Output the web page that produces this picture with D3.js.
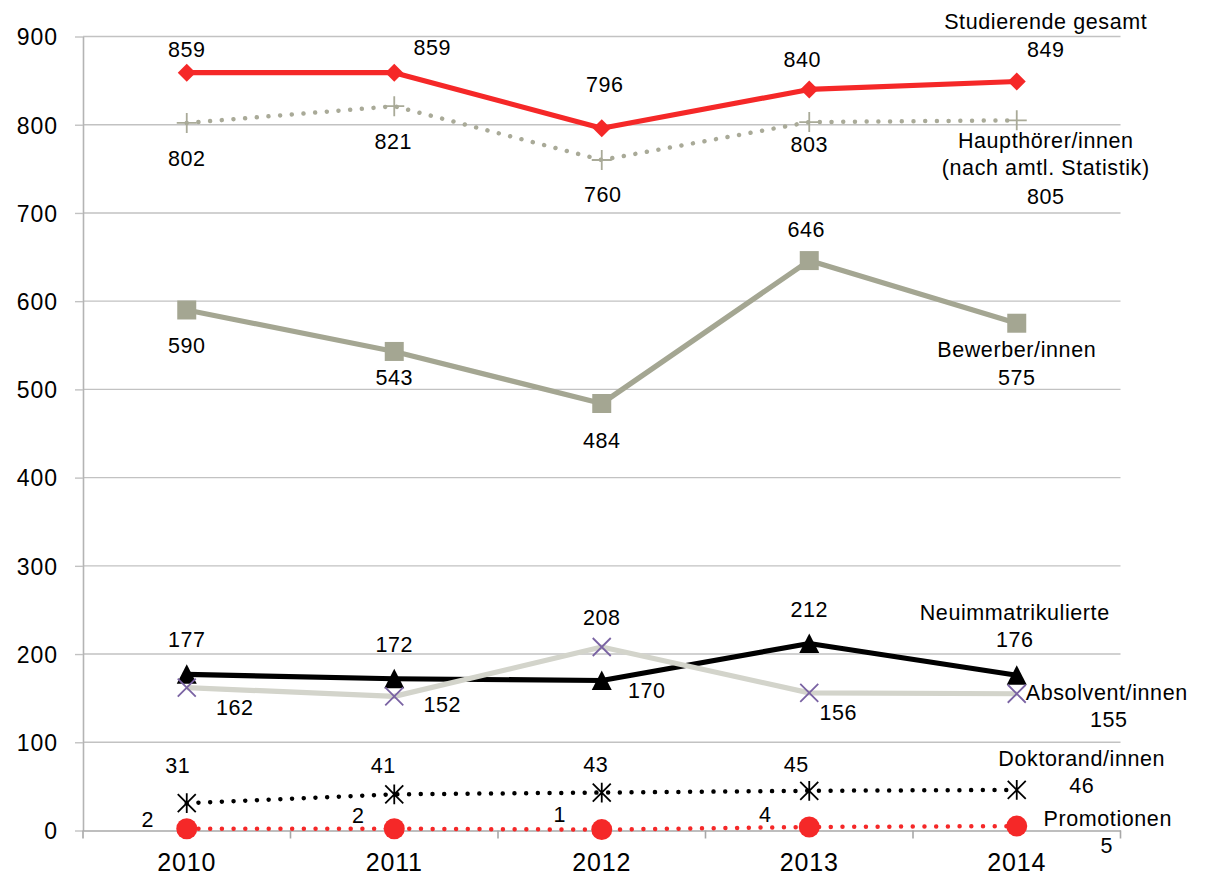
<!DOCTYPE html>
<html>
<head>
<meta charset="utf-8">
<script src="https://cdn.jsdelivr.net/npm/d3@7"></script>
<style>
  html, body { margin: 0; padding: 0; background: #ffffff; }
  svg { display: block; }
  text { font-family: "Liberation Sans", Arial, Helvetica, sans-serif; fill: #000; }
</style>
</head>
<body>
<svg id="chart" width="1206" height="877"></svg>
<script>
// ---------- data ----------
const years = ["2010", "2011", "2012", "2013", "2014"];
const yTicks = [0, 100, 200, 300, 400, 500, 600, 700, 800, 900];

const studierende        = [859, 859, 796, 840, 849];
const haupthoerer        = [802, 821, 760, 803, 805];
const bewerber           = [590, 543, 484, 646, 575];
const neuimmatrikulierte = [177, 172, 170, 212, 176];
const absolventen        = [162, 152, 208, 156, 155];
const doktoranden        = [31, 41, 43, 45, 46];
const promotionen        = [2, 2, 1, 4, 5];

const seriesNames = [
  ["Studierende gesamt"],
  ["Haupthörer/innen", "(nach amtl. Statistik)"],
  ["Bewerber/innen"],
  ["Neuimmatrikulierte"],
  ["Absolvent/innen"],
  ["Doktorand/innen"],
  ["Promotionen"]
];

// ---------- layout / style ----------
const plotLeft = 83, plotRight = 1120.5, plotTop = 36.5, plotBottom = 830.5;

const x = d3.scaleBand().domain(years).range([plotLeft, plotRight]);
const cx = d => x(d) + x.bandwidth() / 2;
const y = d3.scaleLinear().domain([0, 900]).range([plotBottom, plotTop]);

const RED = "#f52828";

// custom marker symbols (shape around the point, size param = half extent)
const sym = {
  diamond: { draw(c, s) { c.moveTo(0, -s); c.lineTo(s, 0); c.lineTo(0, s); c.lineTo(-s, 0); c.closePath(); } },
  square:  { draw(c, s) { c.rect(-s, -s, 2 * s, 2 * s); } },
  triangle:{ draw(c, s) { c.moveTo(0, -s); c.lineTo(s, s * 0.95); c.lineTo(-s, s * 0.95); c.closePath(); } },
  circle:  { draw(c, s) { c.moveTo(s, 0); c.arc(0, 0, s, 0, 2 * Math.PI); } },
  plus:    { draw(c, s) { c.moveTo(-s, 0); c.lineTo(s, 0); c.moveTo(0, -s); c.lineTo(0, s); } },
  cross:   { draw(c, s) { c.moveTo(-s, -s); c.lineTo(s, s); c.moveTo(-s, s); c.lineTo(s, -s); } },
  asterisk:{ draw(c, s) { c.moveTo(-s, -s); c.lineTo(s, s); c.moveTo(-s, s); c.lineTo(s, -s); c.moveTo(0, -s * 1.1); c.lineTo(0, s * 1.1); } }
};

const series = [
  { values: studierende, color: RED, width: 5.2, dotted: false,
    marker: { type: sym.diamond, size: 9, fill: RED, stroke: "none", sw: 0 } },
  { values: haupthoerer, color: "#a9aa98", width: 4.5, dotted: true,
    marker: { type: sym.plus, size: 10, fill: "none", stroke: "#a9aa98", sw: 1.8 } },
  { values: bewerber, color: "#a4a692", width: 5.2, dotted: false,
    marker: { type: sym.square, size: 9.5, fill: "#a4a692", stroke: "none", sw: 0 } },
  { values: neuimmatrikulierte, color: "#000000", width: 5.2, dotted: false,
    marker: { type: sym.triangle, size: 10, fill: "#000000", stroke: "none", sw: 0 } },
  { values: absolventen, color: "#d3d4cb", width: 5.2, dotted: false,
    marker: { type: sym.cross, size: 9, fill: "none", stroke: "#7a63a3", sw: 1.8 } },
  { values: doktoranden, color: "#000000", width: 4.5, dotted: true,
    marker: { type: sym.asterisk, size: 9, fill: "none", stroke: "#000000", sw: 1.8 } },
  { values: promotionen, color: RED, width: 4.5, dotted: true,
    marker: { type: sym.circle, size: 10.5, fill: RED, stroke: "none", sw: 0 } }
];

// data label offsets [dx, dy] from each point (text centre / baseline)
const labelOffsets = [
  [[0, -16], [38, -18], [3, -36], [-7, -22], [29, -24.5]],
  [[0, 43], [-1, 43], [1, 42], [0, 30], [29, 84]],
  [[0, 43], [0, 33.5], [0, 44.5], [-3, -23.6], [0, 62]],
  [[0, -27], [0, -27], [45, 17.5], [0, -26.5], [-2, -28]],
  [[48, 27], [48, 15.6], [0, -22], [29, 27], [92, 33]],
  [[-9, -30], [-11, -21], [-6, -20.6], [-13, -19], [65, 3]],
  [[-39, -2], [-36, -6], [-42, -8], [-44, -5], [90, 27]]
];
// series-name offsets from the last point [dx, dy of first line], line step
const nameOffsets = [
  [29, -52.5], [29, 27.7], [0, 34], [-2, -55], [90, 6], [65, -24], [91, 0]
];
const nameLineStep = 27;

const LABEL_FONT = 21.5, LABEL_LS = 0.6;

// ---------- drawing ----------
const svg = d3.select("#chart");

// gridlines
svg.append("g").selectAll("line")
  .data(yTicks.filter(t => t > 0))
  .join("line")
  .attr("x1", plotLeft).attr("x2", plotRight)
  .attr("y1", d => y(d)).attr("y2", d => y(d))
  .attr("stroke", "#c2c2c2").attr("stroke-width", 1.4);

// y axis
const yAxis = svg.append("g")
  .attr("transform", `translate(${plotLeft},0)`)
  .call(d3.axisLeft(y).tickValues(yTicks).tickSizeInner(8).tickSizeOuter(0).tickPadding(17));
yAxis.select(".domain").attr("stroke", "#b4b4b4").attr("stroke-width", 1.6);
yAxis.selectAll(".tick line").attr("stroke", "#c2c2c2").attr("stroke-width", 1.4);
yAxis.selectAll(".tick text")
  .attr("font-size", 23).attr("letter-spacing", 1.0)
  .attr("dy", "0.36em").attr("fill", "#000")
  .style("font-family", '"Liberation Sans", Arial, sans-serif');

// x axis
const xAxis = svg.append("g")
  .attr("transform", `translate(0,${plotBottom})`)
  .call(d3.axisBottom(x).tickSize(0).tickPadding(0));
xAxis.select(".domain").attr("stroke", "#a8a8a8").attr("stroke-width", 1.6);
xAxis.selectAll(".tick text")
  .attr("font-size", 25).attr("letter-spacing", 0.8)
  .attr("y", 40).attr("dy", 0).attr("fill", "#000")
  .style("font-family", '"Liberation Sans", Arial, sans-serif');
// category boundary ticks
const bounds = years.map(d => x(d)).concat([x(years[years.length - 1]) + x.bandwidth()]);
xAxis.append("g").selectAll("line")
  .data(bounds)
  .join("line")
  .attr("x1", d => d).attr("x2", d => d)
  .attr("y1", 0).attr("y2", 8)
  .attr("stroke", "#a8a8a8").attr("stroke-width", 1.6);

// series lines + markers
const lineGen = d3.line().x((d, i) => cx(years[i])).y(d => y(d));
const plot = svg.append("g");
series.forEach(s => {
  const g = plot.append("g");
  g.append("path")
    .attr("d", lineGen(s.values))
    .attr("fill", "none")
    .attr("stroke", s.color)
    .attr("stroke-width", s.width)
    .attr("stroke-linejoin", "round")
    .attr("stroke-linecap", s.dotted ? "round" : "butt")
    .attr("stroke-dasharray", s.dotted ? "0.01 11.7" : null);
  const m = s.marker;
  const symbolGen = d3.symbol().type(m.type).size(m.size);
  g.selectAll("path.mk")
    .data(s.values)
    .join("path")
    .attr("class", "mk")
    .attr("transform", (d, i) => `translate(${cx(years[i])},${y(d)})`)
    .attr("d", symbolGen())
    .attr("fill", m.fill)
    .attr("stroke", m.stroke)
    .attr("stroke-width", m.sw);
});

// data labels
const labels = svg.append("g")
  .attr("font-size", LABEL_FONT)
  .attr("letter-spacing", LABEL_LS)
  .attr("text-anchor", "middle");
series.forEach((s, si) => {
  labels.append("g").selectAll("text")
    .data(s.values)
    .join("text")
    .attr("x", (d, i) => cx(years[i]) + labelOffsets[si][i][0])
    .attr("y", (d, i) => y(d) + labelOffsets[si][i][1])
    .text(d => d);
  const last = s.values.length - 1;
  const bx = cx(years[last]) + nameOffsets[si][0];
  const by = y(s.values[last]) + nameOffsets[si][1];
  seriesNames[si].forEach((line, li) => {
    labels.append("text")
      .attr("x", bx)
      .attr("y", by + li * nameLineStep)
      .text(line);
  });
});
</script>
</body>
</html>
